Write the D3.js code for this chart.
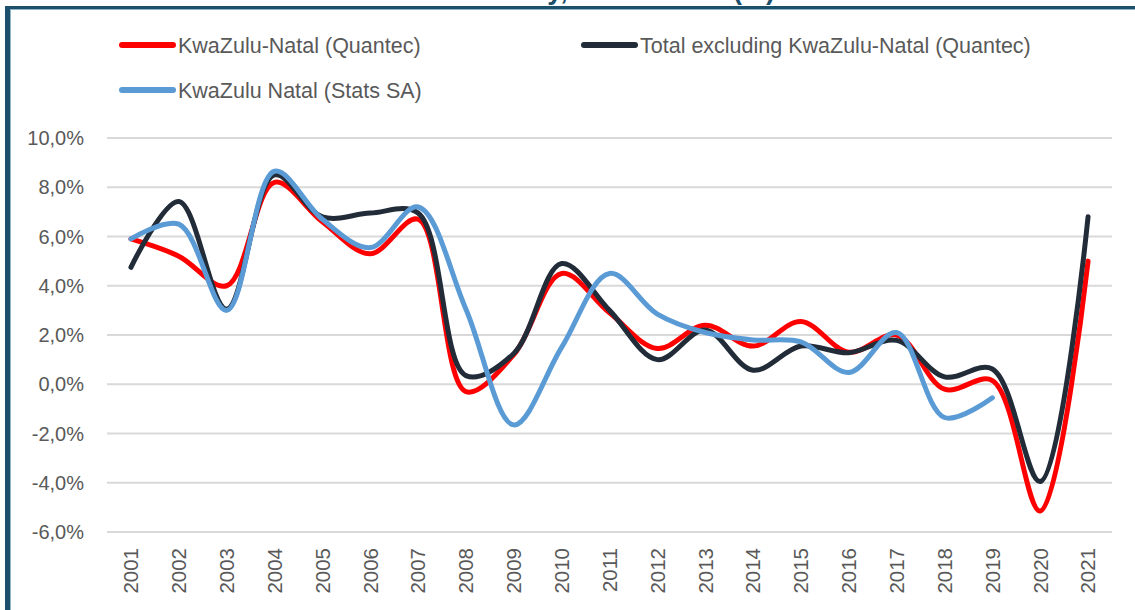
<!DOCTYPE html>
<html>
<head>
<meta charset="utf-8">
<script src="https://cdn.jsdelivr.net/npm/d3@7"></script>
<style>
  body { margin: 0; background: #fff; }
  svg { display: block; font-family: "Liberation Sans", Arial, sans-serif; }
</style>
</head>
<body>
<svg></svg>
<script>
const WIDTH = 1135;
const HEIGHT = 610;

const years = ["2001", "2002", "2003", "2004", "2005", "2006", "2007", "2008", "2009", "2010", "2011",
    "2012", "2013", "2014", "2015", "2016", "2017", "2018", "2019", "2020", "2021"];

// growth, %
const kznQuantec = [5.9, 5.2, 4.0, 8.2, 6.6, 5.3, 6.7, -0.3, 1.2, 4.5, 2.9,
    1.45, 2.4, 1.55, 2.55, 1.3, 2.0, -0.2, 0.15, -5.15, 5.0];
const restQuantec = [4.75, 7.42, 3.05, 8.5, 6.8, 6.95, 6.95, 0.35, 1.25, 4.9, 3.0,
    1.0, 2.2, 0.57, 1.55, 1.28, 1.78, 0.3, 0.62, -3.95, 6.8];
const kznStatsSA = [5.9, 6.5, 3.0, 8.65, 6.7, 5.55, 7.2, 3.05, -1.65, 1.5, 4.5,
    2.85, 2.1, 1.8, 1.72, 0.48, 2.1, -1.35, -0.55, null, null];

const yTicks = [-6, -4, -2, 0, 2, 4, 6, 8, 10];

const series = [
    { name: "KwaZulu-Natal (Quantec)", values: kznQuantec, color: "#ff0000" },
    { name: "Total excluding KwaZulu-Natal (Quantec)", values: restQuantec, color: "#222b38" },
    { name: "KwaZulu Natal (Stats SA)", values: kznStatsSA, color: "#5b9bd5" }
];

let svg = d3.select("svg")
    .attr("width", WIDTH)
    .attr("height", HEIGHT);

// title sits mostly above the picture, as in the original crop
svg.append("text")
    .attr("x", 775)
    .attr("y", -1)
    .attr("text-anchor", "end")
    .style("font-size", "27px")
    .style("font-weight", "bold")
    .style("fill", "#1b4f6a")
    .text("Real economic activity, 2001 \u2013 2021 (%)");

// frame
svg.append("line").attr("x1", 7.5).attr("y1", 6).attr("x2", 7.5).attr("y2", HEIGHT)
    .style("stroke", "#1b4f6a").style("stroke-width", 5);
svg.append("line").attr("x1", 5).attr("y1", 7.5).attr("x2", WIDTH).attr("y2", 7.5)
    .style("stroke", "#1b4f6a").style("stroke-width", 3);
svg.append("line").attr("x1", 10.5).attr("y1", 9.5).attr("x2", 10.5).attr("y2", HEIGHT)
    .style("stroke", "#8fb2c6").style("stroke-width", 1);
svg.append("line").attr("x1", 10).attr("y1", 9.5).attr("x2", WIDTH).attr("y2", 9.5)
    .style("stroke", "#8fb2c6").style("stroke-width", 1);

let x = d3.scalePoint()
    .domain(years)
    .range([107, 1112])
    .padding(0.5);

let y = d3.scaleLinear()
    .domain([-6, 10])
    .range([532, 138]);

// gridlines
svg.append("g")
    .selectAll("line")
    .data(yTicks)
    .join("line")
    .attr("x1", 107)
    .attr("x2", 1112)
    .attr("y1", d => y(d))
    .attr("y2", d => y(d))
    .style("stroke", "#d9d9d9")
    .style("stroke-width", 2);

// y labels
svg.append("g")
    .selectAll("text")
    .data(yTicks)
    .join("text")
    .attr("x", 84)
    .attr("y", d => y(d))
    .attr("dy", "0.36em")
    .attr("text-anchor", "end")
    .style("font-size", "20px")
    .style("fill", "#595959")
    .text(d => d.toFixed(1).replace(".", ",") + "%");

// x labels
svg.append("g")
    .selectAll("text")
    .data(years)
    .join("text")
    .attr("transform", d => `translate(${x(d)}, 548) rotate(-90)`)
    .attr("dy", "0.36em")
    .attr("text-anchor", "end")
    .style("font-size", "20.5px")
    .style("fill", "#595959")
    .text(d => d);

// lines
let line = d3.line()
    .defined(d => d.v !== null)
    .x(d => x(d.year))
    .y(d => y(d.v))
    .curve(d3.curveCatmullRom.alpha(0.5));

svg.append("g")
    .selectAll("path")
    .data(series)
    .join("path")
    .attr("d", s => line(years.map((yr, i) => ({ year: yr, v: s.values[i] }))))
    .style("fill", "none")
    .style("stroke", s => s.color)
    .style("stroke-width", 5)
    .style("stroke-linecap", "round")
    .style("stroke-linejoin", "round");

// legend
const legendPos = [[120, 45], [582, 45], [120, 90]];
let legend = svg.append("g")
    .selectAll("g")
    .data(series)
    .join("g")
    .attr("transform", (s, i) => `translate(${legendPos[i][0]}, ${legendPos[i][1]})`);

legend.append("line")
    .attr("x1", 2)
    .attr("x2", 53)
    .style("stroke", s => s.color)
    .style("stroke-width", 6)
    .style("stroke-linecap", "round");

legend.append("text")
    .attr("x", 58)
    .attr("dy", "0.36em")
    .style("font-size", "21.5px")
    .style("fill", "#595959")
    .text(s => s.name);
</script>
</body>
</html>
